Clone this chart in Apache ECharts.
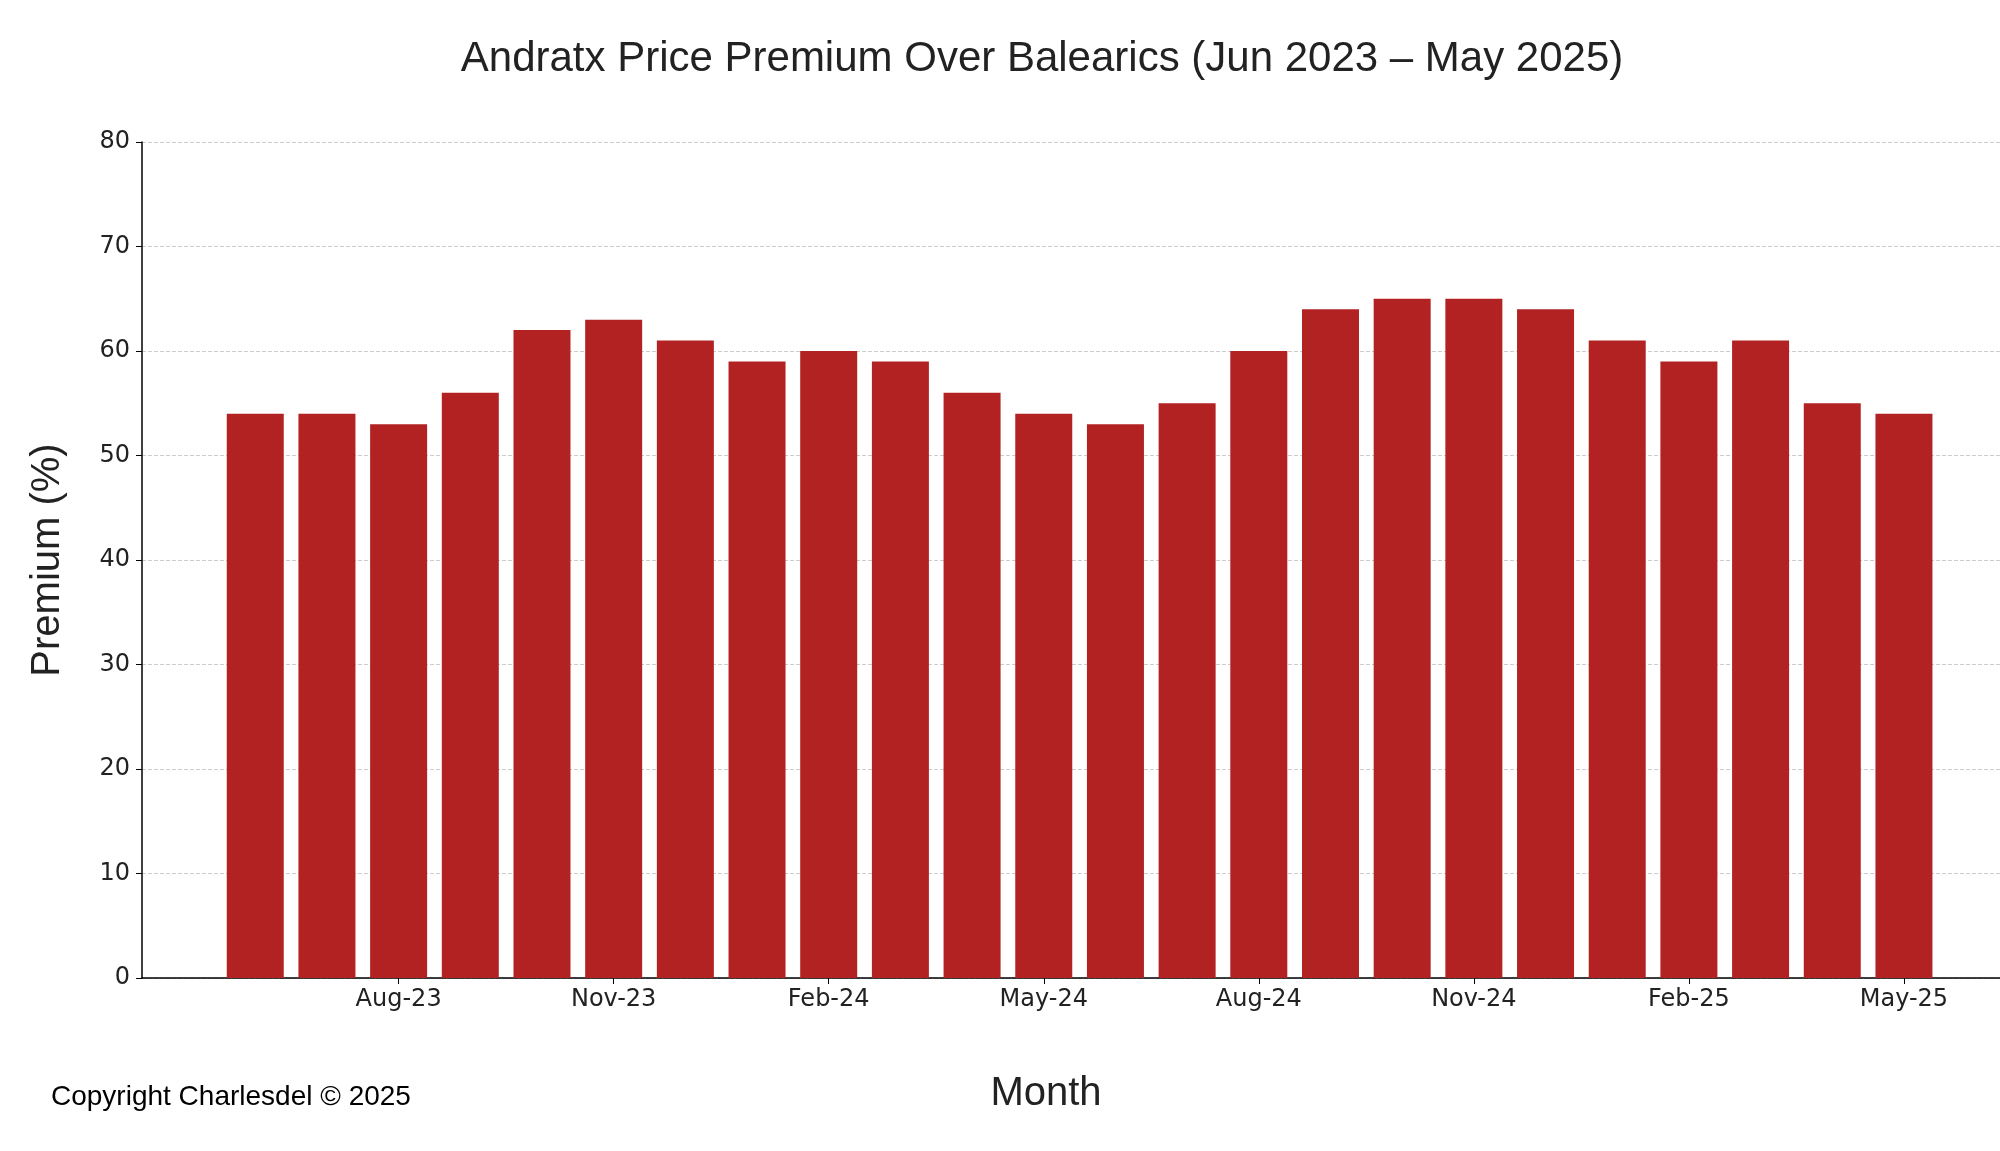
<!DOCTYPE html>
<html>
<head>
<meta charset="utf-8">
<script src="https://cdn.jsdelivr.net/npm/echarts@6/dist/echarts.min.js"></script>
<style>html,body{margin:0;padding:0;background:#fff}#main{width:2000px;height:1151px}</style>
</head>
<body>
<div id="main"></div>
<script>
var chart = echarts.init(document.getElementById('main'));

var months = ['Jun-23','Jul-23','Aug-23','Sep-23','Oct-23','Nov-23','Dec-23','Jan-24','Feb-24','Mar-24','Apr-24','May-24',
              'Jun-24','Jul-24','Aug-24','Sep-24','Oct-24','Nov-24','Dec-24','Jan-25','Feb-25','Mar-25','Apr-25','May-25'];
var premium = [54,54,53,56,62,63,61,59,60,59,56,54,53,55,60,64,65,65,64,61,59,61,55,54];
var tickIdx = [2,5,8,11,14,17,20,23];

var font = 'DejaVu Sans';
var option = {
    graphic: [{
        type: 'text', x: 1042, y: 38,
        style: {text: 'Andratx Price Premium Over Balearics (Jun 2023 \u2013 May 2025)', align: 'center',
                fontFamily: 'Liberation Sans', fontSize: 42, fill: '#222'}
    }, {
        type: 'text', left: 51, top: 1083,
        style: {text: 'Copyright Charlesdel \u00a9 2025', fontFamily: 'Liberation Sans', fontSize: 28, fill: '#000'}
    }],
    grid: {left: 142, right: 0, top: 142, bottom: 173},
    xAxis: {
        type: 'value',
        min: -1.58,
        max: 24.34,
        name: 'Month',
        nameLocation: 'middle',
        nameGap: 96,
        nameTextStyle: {fontFamily: 'Liberation Sans', fontSize: 40, color: '#222', padding: [0, 50, 0, 0]},
        axisLine: {lineStyle: {color: '#000', width: 1.5}},
        axisTick: {show: true, customValues: tickIdx, length: 6, lineStyle: {color: '#000'}},
        axisLabel: {
            customValues: tickIdx,
            formatter: function (v) { return months[Math.round(v)]; },
            fontFamily: font, fontSize: 24, color: '#222', margin: 10
        },
        splitLine: {show: false}
    },
    yAxis: {
        type: 'value',
        min: 0, max: 80, interval: 10,
        name: 'Premium (%)',
        nameLocation: 'middle',
        nameGap: 74,
        nameTextStyle: {fontFamily: 'Liberation Sans', fontSize: 40, color: '#222'},
        axisLine: {show: true, onZero: false, lineStyle: {color: '#000', width: 1.5}},
        axisTick: {show: true, length: 6, lineStyle: {color: '#000'}},
        axisLabel: {fontFamily: font, fontSize: 24, color: '#222', margin: 12},
        splitLine: {lineStyle: {color: '#ccc', type: 'dashed', width: 1}}
    },
    series: [{
        type: 'bar',
        barWidth: 57,
        itemStyle: {color: '#b22222'},
        data: premium.map(function (v, i) { return [i, v]; })
    }]
};
chart.setOption(option);
</script>
</body>
</html>
